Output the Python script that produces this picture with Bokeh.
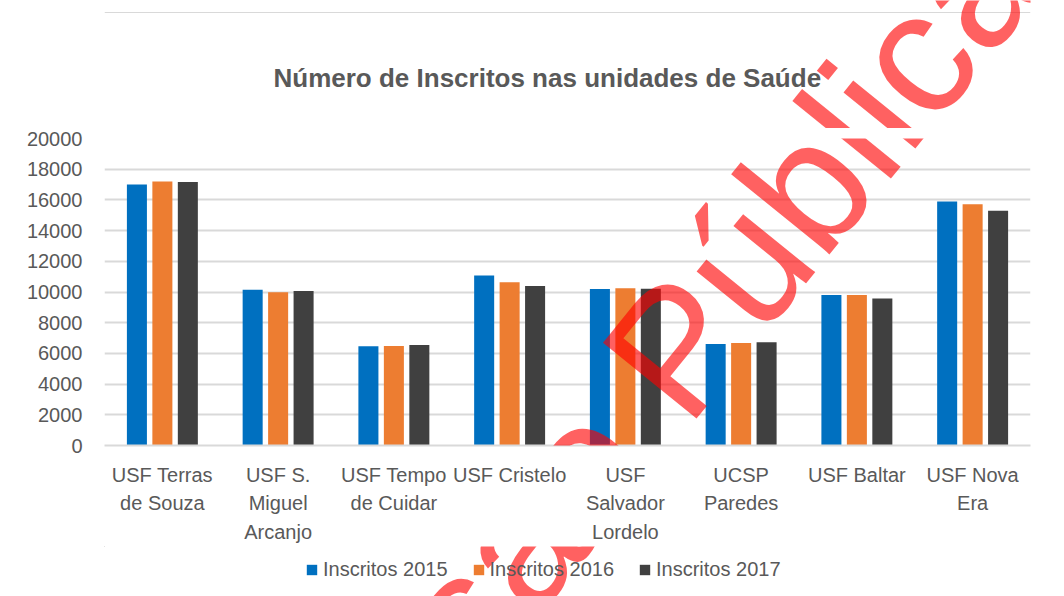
from bokeh.plotting import figure
from bokeh.layouts import column
from bokeh.models import (ColumnDataSource, FactorRange, Range1d, FixedTicker,
                          Legend, LegendItem, Label, Span)
from bokeh.transform import dodge
from bokeh.embed import file_html
from bokeh.resources import INLINE

# ---- data ----
categories = [
    "USF Terras\nde Souza",
    "USF S.\nMiguel\nArcanjo",
    "USF Tempo\nde Cuidar",
    "USF Cristelo",
    "USF\nSalvador\nLordelo",
    "UCSP\nParedes",
    "USF Baltar",
    "USF Nova\nEra",
]
inscritos_2015 = [17000, 10150, 6470, 11080, 10190, 6620, 9800, 15890]
inscritos_2016 = [17200, 9980, 6490, 10630, 10250, 6670, 9800, 15710]
inscritos_2017 = [17160, 10060, 6540, 10390, 10210, 6730, 9570, 15290]
series_names = ["Inscritos 2015", "Inscritos 2016", "Inscritos 2017"]
y_ticks = [0, 2000, 4000, 6000, 8000, 10000, 12000, 14000, 16000, 18000, 20000]
title_text = "Número de Inscritos nas unidades de Saúde"
watermark_text = "Versão Pública"

colors = ["#0070C0", "#ED7D31", "#404040"]
FONT = "Liberation Sans"
TXT = "#595959"
FS = "20px"

W = 1064
TOP_H = 128      # title strip
MAIN_H = 418     # chart with axes
LEG_H = 50       # legend strip
FRAME_L, FRAME_R, FRAME_T, FRAME_B = 104, 1030, 138, 446

# watermark anchor in page pixels (baseline start of the text)
WM_X, WM_Y, WM_ANGLE, WM_SIZE = 266.5, 854.6, 0.89, "175px"


def watermark(x, y):
    return Label(x=x, y=y, text=watermark_text, angle=WM_ANGLE,
                 text_align="left", text_baseline="alphabetic",
                 text_font=FONT, text_font_size=WM_SIZE,
                 text_color="red", text_alpha=0.62)


def strip(height, y0):
    # frame is aligned with the main chart frame horizontally; data units = page px
    f = figure(width=W, height=height, x_range=Range1d(FRAME_L, FRAME_R),
               y_range=Range1d(y0 + height, y0), x_axis_location=None,
               y_axis_location=None, toolbar_location=None,
               output_backend="svg", min_border=0, title=None)
    f.outline_line_color = None
    f.background_fill_color = "white"
    f.border_fill_color = "white"
    f.xgrid.visible = False
    f.ygrid.visible = False
    return f


# ---- title strip ----
p_top = strip(TOP_H, 0)
p_top.add_layout(Span(location=12, dimension="width", line_color="#D9D9D9",
                      line_width=1))
p_top.add_layout(Label(x=273, y=77, text=title_text, text_align="left",
                       text_baseline="alphabetic", text_font=FONT,
                       text_font_size="26px", text_font_style="bold",
                       text_color=TXT))
p_top.add_layout(watermark(WM_X, WM_Y))

# ---- main chart ----
source = ColumnDataSource(dict(cat=categories, s2015=inscritos_2015,
                               s2016=inscritos_2016, s2017=inscritos_2017))

p = figure(width=W, height=MAIN_H, x_range=FactorRange(*categories),
           y_range=Range1d(0, 20000), output_backend="svg", title=None,
           toolbar_location=None, min_border_left=FRAME_L,
           min_border_right=W - FRAME_R, min_border_top=FRAME_T - TOP_H,
           min_border_bottom=TOP_H + MAIN_H - FRAME_B)
p.outline_line_color = None
p.background_fill_color = "white"
p.border_fill_color = "white"

bw = 0.173
off = 0.22
for col, c, o in zip(["s2015", "s2016", "s2017"], colors, [-off, 0, off]):
    p.vbar(x=dodge("cat", o, range=p.x_range), top=col, width=bw,
           source=source, fill_color=c, line_color=None)

p.yaxis.ticker = FixedTicker(ticks=y_ticks)
p.yaxis.axis_line_color = None
p.yaxis.major_tick_line_color = None
p.yaxis.minor_tick_line_color = None
p.yaxis.major_tick_out = 0
p.yaxis.major_label_text_font = FONT
p.yaxis.major_label_text_font_size = FS
p.yaxis.major_label_text_color = TXT
p.yaxis.major_label_standoff = 22

p.xaxis.axis_line_color = "#D9D9D9"
p.xaxis.axis_line_width = 2
p.xaxis.major_tick_line_color = None
p.xaxis.minor_tick_line_color = None
p.xaxis.major_tick_out = 0
p.xaxis.major_label_text_font = FONT
p.xaxis.major_label_text_font_size = FS
p.xaxis.major_label_text_color = TXT
p.xaxis.major_label_text_line_height = 1.31
p.xaxis.major_label_standoff = 18

p.xgrid.grid_line_color = None
p.ygrid.grid_line_color = "#D9D9D9"
p.ygrid.grid_line_width = 2

# watermark in chart data coordinates
px_per_cat = (FRAME_R - FRAME_L) / len(categories)
units_per_px = 20000 / (FRAME_B - FRAME_T)
p.add_layout(watermark((WM_X - FRAME_L) / px_per_cat,
                       (FRAME_B - WM_Y) * units_per_px))

# ---- legend strip ----
p_leg = strip(LEG_H, TOP_H + MAIN_H)
leg_renderers = [p_leg.vbar(x=[0], top=[0], width=0, fill_color=c,
                            line_color=None) for c in colors]
legend = Legend(items=[LegendItem(label=n, renderers=[r])
                       for n, r in zip(series_names, leg_renderers)],
                orientation="horizontal", location=(305 - FRAME_L, 15),
                border_line_color=None, background_fill_alpha=0,
                padding=0, margin=0, spacing=24, glyph_width=13,
                glyph_height=13, label_standoff=5,
                label_text_font=FONT, label_text_font_size=FS,
                label_text_color=TXT)
p_leg.add_layout(legend, "center")
p_leg.add_layout(watermark(WM_X, WM_Y))

layout = column(p_top, p, p_leg, spacing=0)
open("out.html", "w").write(file_html(layout, INLINE))
